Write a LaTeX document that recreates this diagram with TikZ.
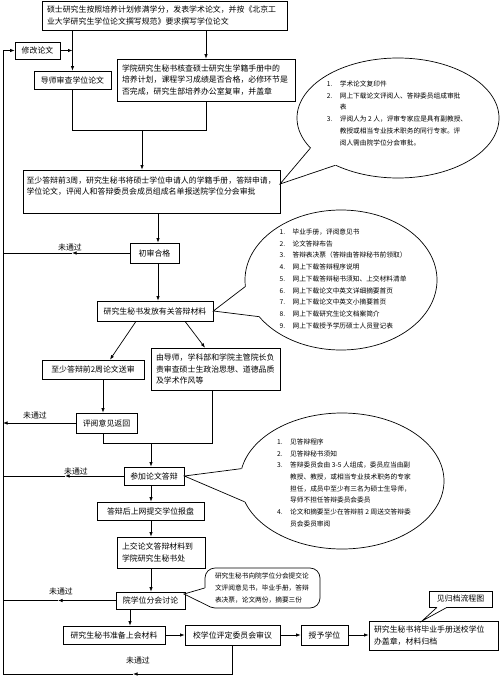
\documentclass[tikz,border=0pt]{standalone}
\usepackage{fontspec}
\setmainfont{Noto Sans CJK SC}
\usetikzlibrary{arrows.meta,shapes.geometric,shadows,calc}
\newcommand\mfnt{\fontsize{7.9}{11.5}\selectfont}
\newcommand\cfnt{\fontsize{6.7}{11.7}\selectfont}
\newcommand\lfnt{\fontsize{7.9}{9}\selectfont}
\begin{document}
\begin{tikzpicture}[x=1pt,y=-1pt,line width=0.7pt,
  arr/.style={-{Latex[length=4.5pt,width=3.4pt]}},
  plainbox/.style={draw,fill=white,inner sep=0pt,font=\mfnt},
  box/.style={plainbox,general shadow={fill=black,shadow xshift=0.8pt,shadow yshift=-0.8pt}},
  mbox/.style={box,align=left,inner xsep=5pt},
  lbl/.style={inner sep=0pt,font=\lfnt},
  bubble/.style={draw,ellipse,inner sep=0pt},
  ctext/.style={inner sep=0pt,font=\cfnt,align=left}]
\useasboundingbox (0,0) rectangle (500,677);

% ---------- boxes ----------
\node[mbox,text width=235pt,minimum height=29pt] (top) at (164.5,15.5)
  {硕士研究生按照培养计划修满学分，发表学术论文，并按《北京工\\业大学研究生学位论文撰写规范》要求撰写学位论文};
\node[box,minimum width=45pt,minimum height=17pt] (xiugai) at (37.5,50.5) {修改论文};
\node[box,minimum width=77pt,minimum height=18pt] (daoshi) at (72.5,80) {导师审查学位论文};
\node[mbox,text width=168pt,minimum height=42pt] (xueyuan) at (206,80)
  {学院研究生秘书核查硕士研究生学籍手册中的\\培养计划，课程学习成绩是否合格，必修环节是\\否完成，研究生部培养办公室复审，并盖章};
\node[box,align=left,inner xsep=3.5pt,text width=250pt,minimum height=43pt] (zhishao) at (151.5,191.5)
  {至少答辩前3周，研究生秘书将硕士学位申请人的学籍手册，答辩申请，\\学位论文，评阅人和答辩委员会成员组成名单报送院学位分会审批\\\mbox{}};
\node[box,minimum width=49pt,minimum height=20pt] (chushen) at (154.5,253) {初审合格};
\node[box,minimum width=116pt,minimum height=20pt] (fafang) at (155,311) {研究生秘书发放有关答辩材料};
\node[box,minimum width=102pt,minimum height=19pt] (song) at (93,369.5) {至少答辩前2周论文送审};
\node[mbox,text width=119pt,minimum height=42pt] (daoshib) at (215.5,369)
  {由导师，学科部和学院主管院长负\\责审查硕士生政治思想、道德品质\\及学术作风等};
\node[box,minimum width=61pt,minimum height=20pt] (pingyue) at (106.5,423) {评阅意见返回};
\node[box,minimum width=60pt,minimum height=18pt] (canjia) at (154,476) {参加论文答辩};
\node[box,minimum width=107pt,minimum height=18pt] (dabianhou) at (150.5,511) {答辩后上网提交学位报盘};
\node[mbox,text width=78pt,minimum height=31pt] (shangjiao) at (161,552.5)
  {上交论文答辩材料到\\学院研究生秘书处};
\node[box,minimum width=69pt,minimum height=17pt] (yuan) at (150.5,600.5) {院学位分会讨论};
\node[box,minimum width=102pt,minimum height=18pt] (zhunbei) at (114,635) {研究生秘书准备上会材料};
\node[box,minimum width=95pt,minimum height=20pt] (xiao) at (232.5,635) {校学位评定委员会审议};
\node[box,minimum width=47pt,minimum height=20pt] (shouyu) at (324.5,635) {授予学位};
\node[mbox,text width=119pt,minimum height=29pt] (guidang) at (433.5,635.5)
  {研究生秘书将毕业手册送校学位\\办盖章，材料归档};
\node[plainbox,minimum width=63pt,minimum height=16pt] (jian) at (460.5,599) {见归档流程图};

% ---------- callouts ----------
\node[bubble,minimum width=202pt,minimum height=120pt] (c1) at (398,118) {};
\node[ctext] (c1t) at (397,113.5) {\begin{tabular}{@{}p{13pt}@{}l@{}}
1. & 学术论文复印件\\
2. & 网上下载论文评阅人、答辩委员组成审批\\
   & 表\\
3. & 评阅人为 2 人，评审专家应是具有副教授、\\
   & 教授或相当专业技术职务的同行专家。评\\
   & 阅人需由院学位分会审批。
\end{tabular}};

\node[bubble,minimum width=192pt,minimum height=140pt] (c2) at (341,280) {};
\node[ctext] (c2t) at (343,279) {\begin{tabular}{@{}p{13pt}@{}l@{}}
1. & 毕业手册，评阅意见书\\
2. & 论文答辩布告\\
3. & 答辩表决票（答辩由答辩秘书前领取）\\
4. & 网上下载答辩程序说明\\
5. & 网上下载答辩秘书须知、上交材料清单\\
6. & 网上下载论文中英文详细摘要首页\\
7. & 网上下载论文中英文小摘要首页\\
8. & 网上下载研究生论文档案简介\\
9. & 网上下载授予学历硕士人员登记表
\end{tabular}};

\node[bubble,minimum width=204pt,minimum height=136pt] (c3) at (342,481) {};
\node[ctext] (c3t) at (344,483) {\begin{tabular}{@{}p{13pt}@{}l@{}}
1. & 见答辩程序\\
2. & 见答辩秘书须知\\
3. & 答辩委员会由 3-5 人组成，委员应当由副\\
   & 教授、教授，或相当专业技术职务的专家\\
   & 担任，成员中至少有三名为硕士生导师，\\
   & 导师不担任答辩委员会委员\\
4. & 论文和摘要至少在答辩前 2 周送交答辩委\\
   & 员会委员审阅
\end{tabular}};

\node[draw,rounded corners=10pt,inner sep=0pt,minimum width=115pt,minimum height=40pt,
      text width=95pt,align=left,font=\cfnt] (c4) at (262.5,588)
  {研究生秘书向院学位分会提交论\\文评阅意见书，毕业手册，答辩\\表决票，论文两份，摘要三份};

% callout tails
\coordinate (t1) at (280,184);
\fill[white] (c1.199) -- (t1) -- (c1.217) -- ($(c1.center)!0.95!(c1.217)$) -- ($(c1.center)!0.95!(c1.199)$) -- cycle;
\draw (c1.199) -- (t1) -- (c1.217);

\fill[white] (c2.184) -- (fafang.east) -- (c2.204) -- ($(c2.center)!0.95!(c2.204)$) -- ($(c2.center)!0.95!(c2.184)$) -- cycle;
\draw (c2.184) -- (fafang.east) -- (c2.204);

\fill[white] (c3.173) -- (canjia.east) -- (c3.192) -- ($(c3.center)!0.95!(c3.192)$) -- ($(c3.center)!0.95!(c3.173)$) -- cycle;
\draw (c3.173) -- (canjia.east) -- (c3.192);

\coordinate (t4) at (184,594);
\coordinate (c4b) at (210.5,607);
\fill[white] (c4.west) -- (t4) -- (c4b) -- ($(c4b)+(2,-2)$) -- ($(c4.west)+(2,0)$) -- cycle;
\draw (c4.west) -- (t4) -- (c4b);

\coordinate (t5) at (422,621);
\fill[white] ([xshift=-23.5pt]jian.south) -- (t5) -- ([xshift=-13.5pt]jian.south) -- ([xshift=-13.5pt,yshift=1.2pt]jian.south) -- ([xshift=-23.5pt,yshift=1.2pt]jian.south) -- cycle;
\draw ([xshift=-23.5pt]jian.south) -- (t5) -- ([xshift=-13.5pt]jian.south);

% ---------- helper coordinates ----------
\coordinate (Lx) at (3,0);
\coordinate (bot) at (0,674);
\coordinate (jy) at (0,130);
\coordinate (jm) at (142,130);
\coordinate (j3) at (0,443);
\coordinate (colA) at (158,0);
\coordinate (colB) at (151,0);
\coordinate (colC) at (130,0);
\coordinate (m1) at (72,0);
\coordinate (m3) at (65,0);
\coordinate (m4) at (58,0);
\coordinate (m5) at (133,0);

% ---------- connectors ----------
\draw[arr] (daoshi.north |- top.south) -- (daoshi.north);
\draw[arr] (xueyuan.north |- top.south) -- (xueyuan.north);
\draw[arr] (xiugai.east) -- (xiugai.east -| daoshi.north);
\draw (daoshi.south) -- (daoshi.south |- jy) -- (xueyuan.south |- jy) -- (xueyuan.south);
\draw[arr] (jm) -- (jm |- zhishao.north);
\draw[arr] (zhishao.south -| colA) -- (chushen.north -| colA);
\draw[arr] (chushen.south -| colA) -- (fafang.north -| colA);
\draw[arr] ([xshift=-19pt]fafang.south) -- ([xshift=17pt]song.north);
\draw[arr] ([xshift=30pt]fafang.south) -- ([xshift=-10.5pt]daoshib.north);
\draw[arr] ([xshift=10pt]song.south) -- ([xshift=10pt]song.south |- pingyue.north);
\draw ([xshift=-3.5pt]pingyue.south) -- ([xshift=-3.5pt]pingyue.south |- j3) -- ([xshift=-3.5pt]daoshib.south |- j3) -- ([xshift=-3.5pt]daoshib.south);
\draw[arr] (colB |- j3) -- (colB |- canjia.north);
\draw[arr] (colB |- canjia.south) -- (colB |- dabianhou.north);
\draw[arr] (colB |- dabianhou.south) -- (colB |- shangjiao.north);
\draw[arr] (colB |- shangjiao.south) -- (colB |- yuan.north);
\draw[arr] (colC |- yuan.south) -- (colC |- zhunbei.north);
\draw[arr] (zhunbei.east) -- (zhunbei.east -| xiao.west);
\draw[arr] (xiao.east) -- (xiao.east -| shouyu.west);
\draw[arr] (shouyu.east) -- (shouyu.east -| guidang.west);

% left return line
\draw (Lx |- bot) -- (Lx |- xiugai.west);
\draw[arr] (Lx |- xiugai.west) -- (xiugai.west);

% not passed branches
\draw[arr] (chushen.west) -- (chushen.west -| m1);
\draw (chushen.west -| m1) -- (chushen.west -| Lx);
\draw[arr] (pingyue.west) -- (pingyue.west -| Lx);
\draw[arr] (canjia.west) -- (canjia.west -| m3);
\draw (canjia.west -| m3) -- (canjia.west -| Lx);
\draw[arr] (yuan.west) -- (yuan.west -| m4);
\draw (yuan.west -| m4) -- (yuan.west -| Lx);
\draw (xiao.south) -- (xiao.south |- bot);
\draw[arr] (xiao.south |- bot) -- (m5 |- bot);
\draw (m5 |- bot) -- (Lx |- bot);

\node[lbl] (n1) at (70,247) {未通过};
\node[lbl] (n2) at (35,415) {未通过};
\node[lbl] (n3) at (76,471) {未通过};
\node[lbl] (n4) at (61,591) {未通过};
\node[lbl] (n5) at (138,660) {未通过};
\end{tikzpicture}
\end{document}
